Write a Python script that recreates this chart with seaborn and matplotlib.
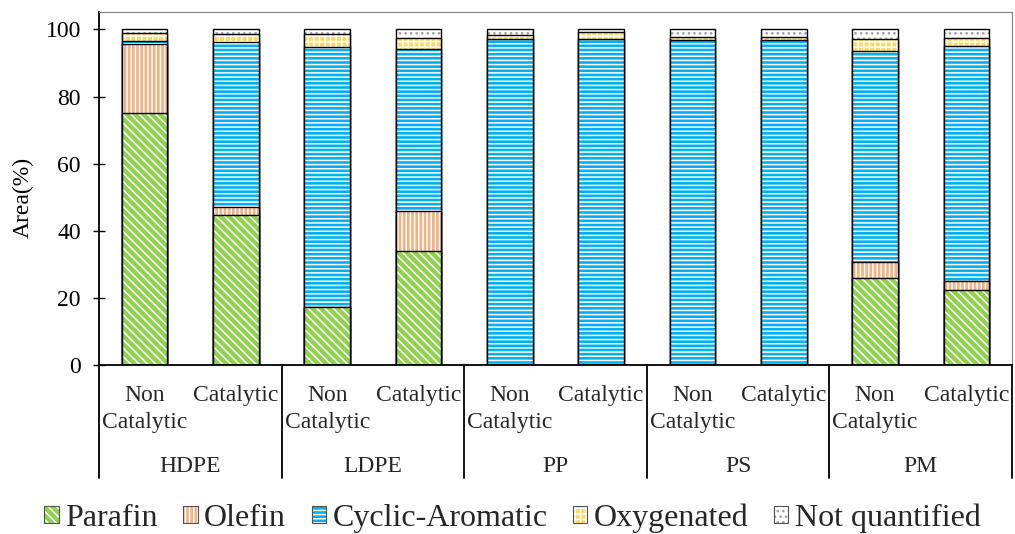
import numpy as np
import pandas as pd
import matplotlib
matplotlib.use("Agg")
import matplotlib.pyplot as plt
import seaborn as sns
from matplotlib.patches import Patch, Rectangle
from matplotlib.legend_handler import HandlerTuple
import matplotlib.transforms as mtransforms

# ---------------- data ----------------
groups = ["HDPE", "LDPE", "PP", "PS", "PM"]
conditions = ["Non\nCatalytic", "Catalytic"]
series_names = ["Parafin", "Olefin", "Cyclic-Aromatic", "Oxygenated", "Not quantified"]
parafin = [75.0, 44.8, 17.2, 34.0, 0.0, 0.0, 0.0, 0.0, 25.9, 22.3]
olefin = [20.8, 2.2, 0.0, 12.0, 0.0, 0.0, 0.0, 0.0, 4.8, 2.6]
cyclic = [0.7, 49.4, 77.7, 48.2, 97.3, 97.3, 97.0, 97.0, 63.0, 70.1]
oxygenated = [2.5, 2.3, 3.6, 3.3, 1.0, 2.0, 0.8, 0.8, 3.5, 2.5]
not_quant = [1.0, 1.3, 1.5, 2.5, 1.7, 0.7, 2.2, 2.2, 2.8, 2.5]
yticks = [0, 20, 40, 60, 80, 100]

# ---------------- style ----------------
faces = ["#92D050", "#F4B183", "#00B0F0", "#FFD966", "#FFFFFF"]
hatch_cols = ["#FFFFFF", "#FFFFFF", "#FFFFFF", "#FFFFFF", "#A0A0A0"]
hatches = ["\\\\\\\\", "||||", "----", "+++", "..."]

sns.set_theme(style="white")
plt.rcParams["font.family"] = ["Liberation Serif", "DejaVu Serif"]
plt.rcParams["hatch.linewidth"] = 1.1

fig = plt.figure(figsize=(10.15, 5.34), dpi=100)
ax = fig.add_axes([99 / 1015, 169 / 534, 913 / 1015, 353 / 534])

keys = [f"{g}|{c}" for g in groups for c in conditions]
data = np.array([parafin, olefin, cyclic, oxygenated, not_quant]).T
cum = np.cumsum(data, axis=1)
df = pd.DataFrame(cum, columns=series_names)
df["key"] = keys

# draw from top segment to bottom so lower ones overlay
for i in reversed(range(len(series_names))):
    n0 = len(ax.patches)
    sns.barplot(data=df, x="key", y=series_names[i], order=keys, color=faces[i],
                saturation=1, width=0.5, edgecolor=hatch_cols[i], linewidth=0,
                hatch=hatches[i], ax=ax, zorder=2)
    for p in ax.patches[n0:]:
        ax.add_patch(Rectangle(p.get_xy(), p.get_width(), p.get_height(),
                               fill=False, edgecolor="black", linewidth=1.0, zorder=2))

ax.set_xlim(-0.5, len(keys) - 0.5)
ax.set_ylim(0, 105.2)
ax.set_yticks(yticks)
ax.set_xticks([])
ax.set_xlabel("")
ax.set_ylabel("Area(%)", fontsize=17, color="black")
ax.yaxis.set_label_coords(-0.071, 0.476)
ax.tick_params(axis="y", direction="inout", length=8, width=1.0, pad=9,
               labelsize=17, colors="black", left=True)
for s in ["left", "bottom"]:
    ax.spines[s].set_color("black")
    ax.spines[s].set_linewidth(1.3)
for s in ["top", "right"]:
    ax.spines[s].set_color("#7f7f7f")
    ax.spines[s].set_linewidth(0.8)

# multi-level category labels
trans = mtransforms.blended_transform_factory(ax.transData, ax.transAxes)
def yax(px):
    return (365 - px) / 353

for gi, g in enumerate(groups):
    for ci, c in enumerate(conditions):
        xi = gi * len(conditions) + ci
        ax.text(xi, yax(385), c, transform=trans, ha="center", va="top",
                fontsize=17, linespacing=1.35, clip_on=False)
    gc = gi * len(conditions) + (len(conditions) - 1) / 2
    ax.text(gc, yax(467), g, transform=trans, ha="center", va="center",
            fontsize=17, clip_on=False)
for gi in range(len(groups) + 1):
    xb = gi * len(conditions) - 0.5
    ax.plot([xb, xb], [0, yax(478)], transform=trans, color="black",
            linewidth=1.3, clip_on=False, zorder=3)

# legend
handles = [(Patch(facecolor=faces[i], hatch=hatches[i], edgecolor=hatch_cols[i], linewidth=0),
            Patch(fill=False, edgecolor="#505050", linewidth=0.8))
           for i in range(len(series_names))]
fig.legend(handles, series_names, handler_map={tuple: HandlerTuple(ndivide=1, pad=0)},
           loc="center", bbox_to_anchor=(0.505, 0.03), ncol=5, frameon=False,
           fontsize=23, handlelength=0.45, handleheight=0.45, handletextpad=0.2,
           columnspacing=0.8, borderaxespad=0)

fig.savefig("out.png", dpi=100)
